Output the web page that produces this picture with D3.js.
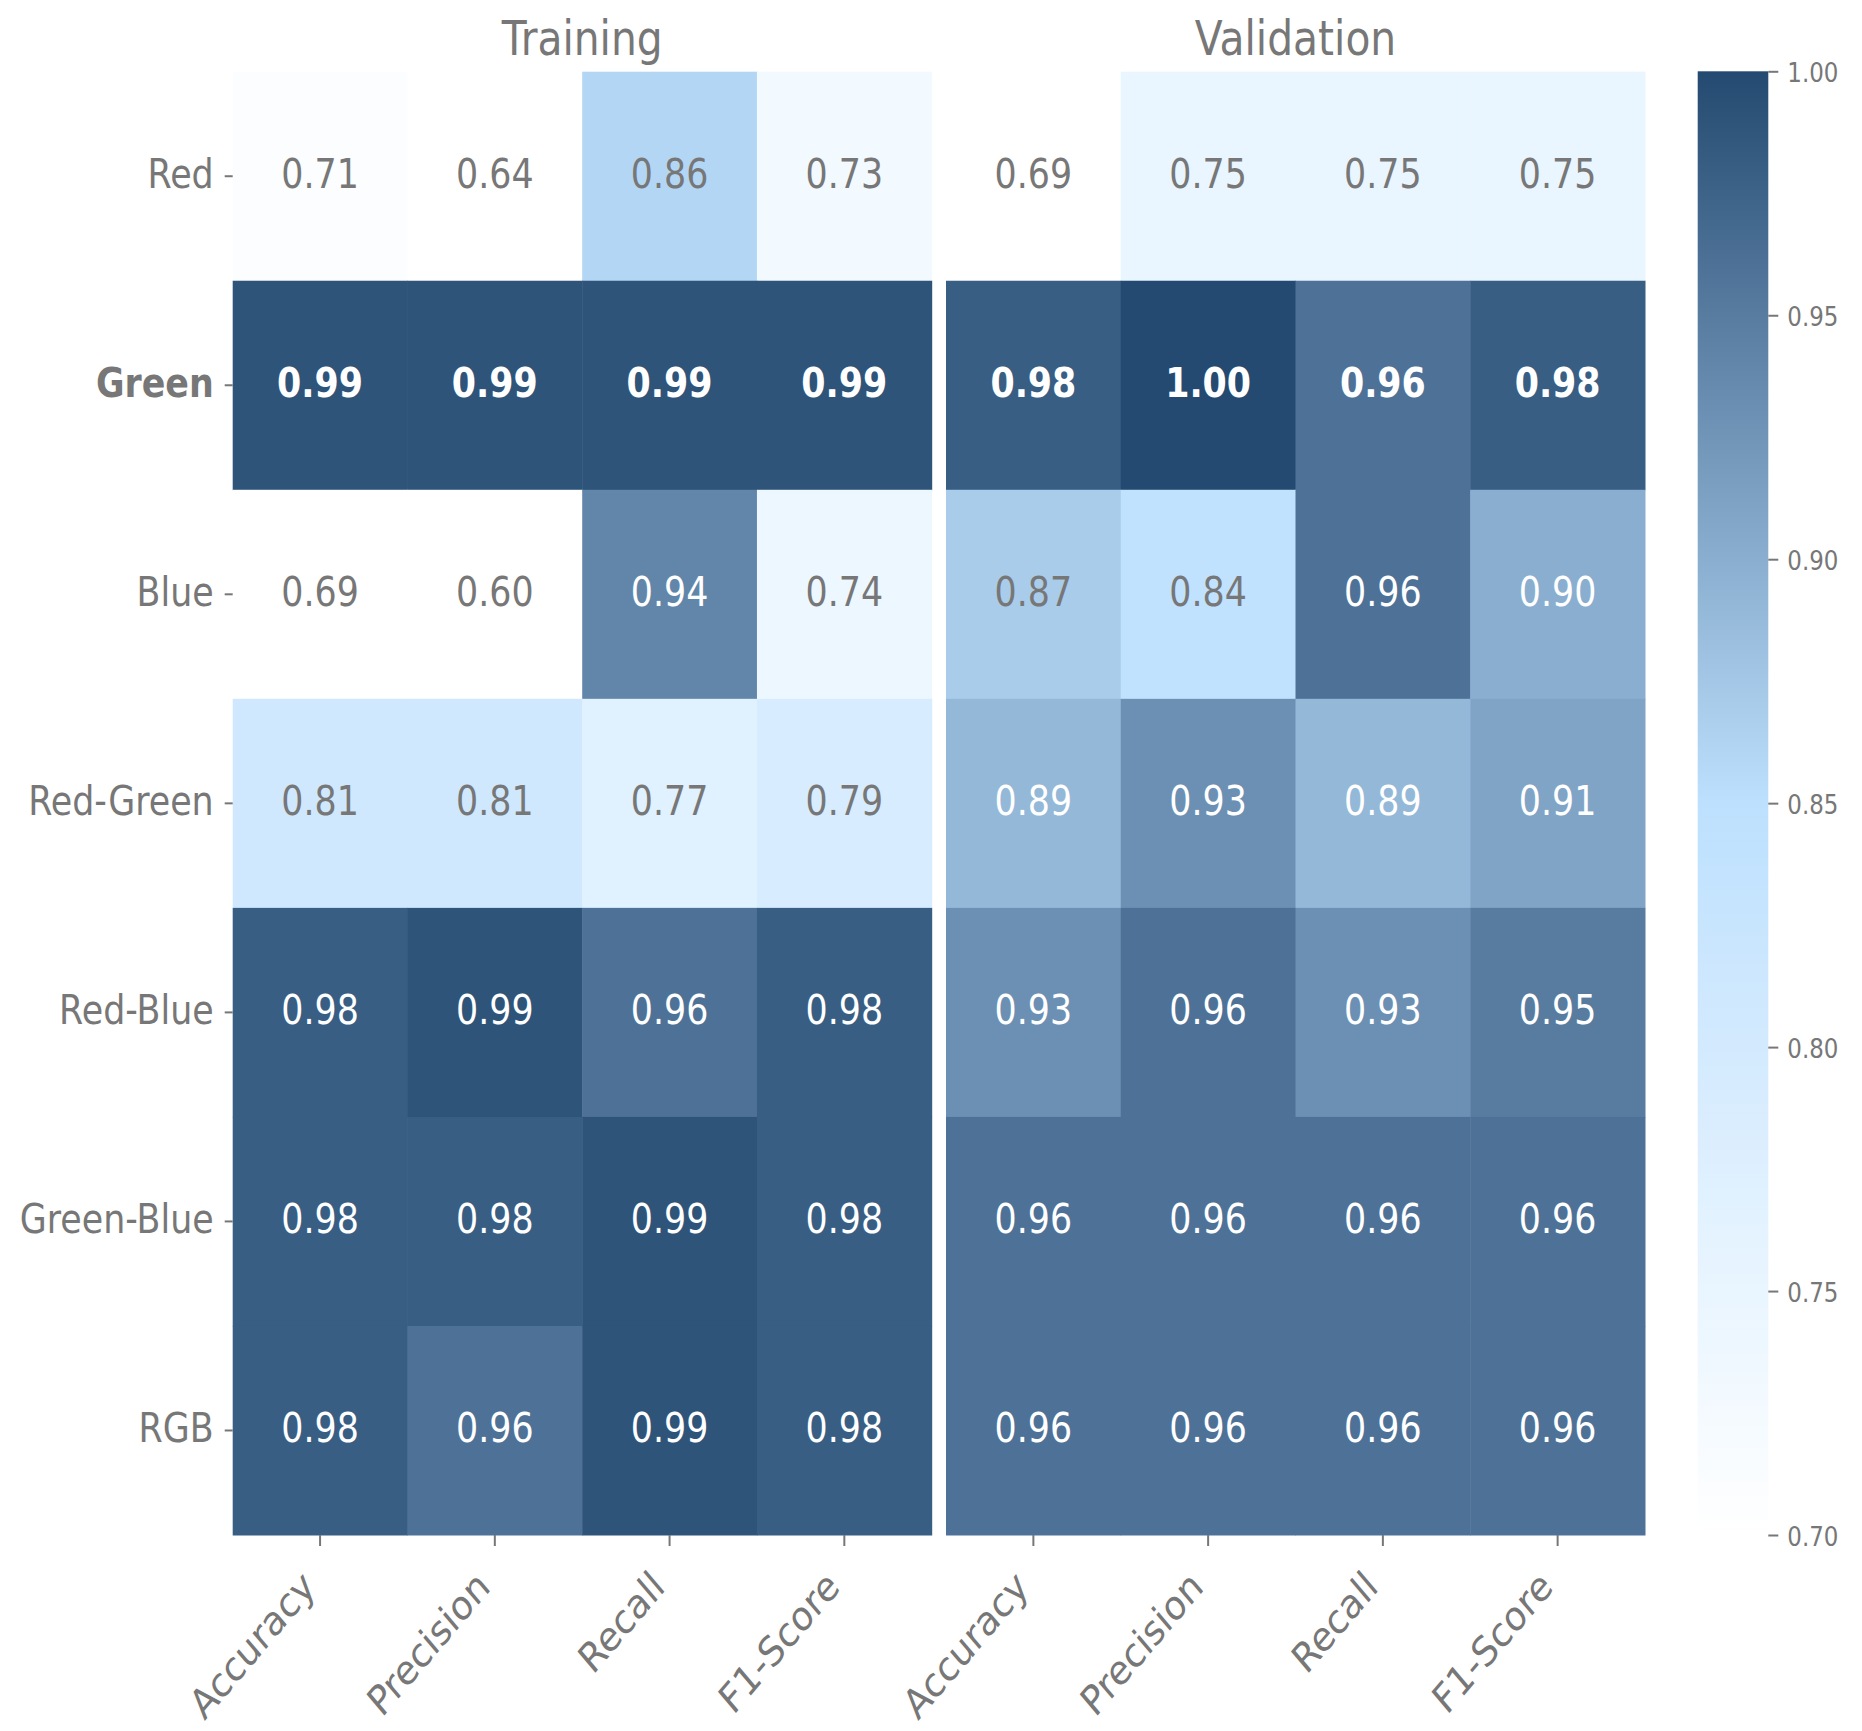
<!DOCTYPE html>
<html>
<head>
<meta charset="utf-8">
<script src="https://cdn.jsdelivr.net/npm/d3@7"></script>
<style>
  body { margin: 0; background: #fff; }
  text { font-family: "DejaVu Sans", sans-serif; }
</style>
</head>
<body>
<div id="chart"></div>
<script>
// Data
const rows = ['Red', 'Green', 'Blue', 'Red-Green', 'Red-Blue', 'Green-Blue', 'RGB']
const metrics = ['Accuracy', 'Precision', 'Recall', 'F1-Score']
const panels = ['Training', 'Validation']
const training = [
  [0.71, 0.64, 0.86, 0.73],
  [0.99, 0.99, 0.99, 0.99],
  [0.69, 0.60, 0.94, 0.74],
  [0.81, 0.81, 0.77, 0.79],
  [0.98, 0.99, 0.96, 0.98],
  [0.98, 0.98, 0.99, 0.98],
  [0.98, 0.96, 0.99, 0.98]
]
const validation = [
  [0.69, 0.75, 0.75, 0.75],
  [0.98, 1.00, 0.96, 0.98],
  [0.87, 0.84, 0.96, 0.90],
  [0.89, 0.93, 0.89, 0.91],
  [0.93, 0.96, 0.93, 0.95],
  [0.96, 0.96, 0.96, 0.96],
  [0.96, 0.96, 0.96, 0.96]
]
const boldRow = 'Green'
const cbarTicks = [0.70, 0.75, 0.80, 0.85, 0.90, 0.95, 1.00]

// layout
const W = 1862, H = 1731
const k = 0.85          // glyphs in the picture are a bit narrow
const gray = '#777777'
const yTop = 71.7, yBottom = 1535
const panelX = [[232.7, 931.7], [946, 1645]]
const cbar = { x0: 1697.7, x1: 1768.3 }

const svg = d3.select('#chart').append('svg')
  .attr('width', W)
  .attr('height', H)
  .style('background-color', '#fff')

const color = d3.scaleLinear()
  .domain([0.70, 0.85, 1.00])
  .range(['#ffffff', '#bde0fe', '#254a71'])
  .clamp(true)

const y = d3.scaleBand().domain(rows).range([yTop, yBottom])

function squish(x, y0) {
  return `translate(${x},${y0}) scale(${k},1)`
}

panels.forEach((name, p) => {
  const data = p === 0 ? training : validation
  const x = d3.scaleBand().domain(metrics).range(panelX[p])
  const g = svg.append('g')

  const cells = []
  rows.forEach((r, i) => metrics.forEach((m, j) => cells.push({ row: r, metric: m, value: data[i][j] })))

  g.selectAll('rect.cell')
    .data(cells)
    .enter()
    .append('rect')
    .attr('class', 'cell')
    .attr('x', d => x(d.metric))
    .attr('y', d => y(d.row))
    .attr('width', x.bandwidth() + 0.5)
    .attr('height', y.bandwidth() + 0.5)
    .attr('fill', d => color(d.value))

  g.selectAll('text.annot')
    .data(cells)
    .enter()
    .append('text')
    .attr('class', 'annot')
    .attr('transform', d => squish(x(d.metric) + x.bandwidth() / 2, y(d.row) + y.bandwidth() / 2 + 12))
    .attr('text-anchor', 'middle')
    .attr('font-size', 41)
    .attr('font-weight', d => d.row === boldRow ? 'bold' : 'normal')
    .attr('fill', d => d.value >= 0.88 ? '#ffffff' : gray)
    .text(d => d3.format('.2f')(d.value))

  // panel title
  svg.append('text')
    .attr('transform', squish((panelX[p][0] + panelX[p][1]) / 2, 55))
    .attr('text-anchor', 'middle')
    .attr('font-size', 48)
    .attr('fill', gray)
    .text(name)

  // x axis with rotated labels
  const xAxis = svg.append('g')
    .attr('transform', `translate(0, ${yBottom})`)
    .call(d3.axisBottom(x).tickSize(11))
  xAxis.select('.domain').remove()
  xAxis.selectAll('line').attr('stroke', gray).attr('stroke-width', 2)
  xAxis.selectAll('text')
    .attr('x', null).attr('y', null).attr('dy', null)
    .attr('transform', `translate(-3, 54) scale(${k},1) rotate(-45)`)
    .attr('text-anchor', 'end')
    .attr('font-size', 41)
    .attr('font-family', 'DejaVu Sans')
    .attr('fill', gray)

  // row labels only on the left panel
  if (p === 0) {
    const yAxis = svg.append('g')
      .attr('transform', `translate(${panelX[0][0]}, 0)`)
      .call(d3.axisLeft(y).tickSize(8))
    yAxis.select('.domain').remove()
    yAxis.selectAll('line').attr('stroke', gray).attr('stroke-width', 2)
    yAxis.selectAll('text')
      .attr('x', null).attr('dy', null)
      .attr('transform', squish(-19, 12))
      .attr('text-anchor', 'end')
      .attr('font-size', 41)
      .attr('font-family', 'DejaVu Sans')
      .attr('font-weight', d => d === boldRow ? 'bold' : 'normal')
      .attr('fill', gray)
  }
})

// colour bar
const cScale = d3.scaleLinear().domain([0.70, 1.00]).range([yBottom, 71.3])
const defs = svg.append('defs')
const grad = defs.append('linearGradient')
  .attr('id', 'cbar')
  .attr('x1', 0).attr('y1', 1).attr('x2', 0).attr('y2', 0)
d3.range(0, 31).forEach(i => {
  const v = 0.70 + i * 0.01
  grad.append('stop')
    .attr('offset', (i / 30 * 100) + '%')
    .attr('stop-color', color(v))
})
svg.append('rect')
  .attr('x', cbar.x0)
  .attr('y', cScale(1.00))
  .attr('width', cbar.x1 - cbar.x0)
  .attr('height', cScale(0.70) - cScale(1.00))
  .attr('fill', 'url(#cbar)')

const cAxis = svg.append('g')
  .attr('transform', `translate(${cbar.x1}, 0)`)
  .call(d3.axisRight(cScale).tickValues(cbarTicks).tickFormat(d3.format('.2f')).tickSize(10))
cAxis.select('.domain').remove()
cAxis.selectAll('line').attr('stroke', gray).attr('stroke-width', 2)
cAxis.selectAll('text')
  .attr('x', null).attr('dy', null)
  .attr('transform', squish(19, 10))
  .attr('text-anchor', 'start')
  .attr('font-size', 27)
  .attr('font-family', 'DejaVu Sans')
  .attr('fill', gray)
</script>
</body>
</html>
